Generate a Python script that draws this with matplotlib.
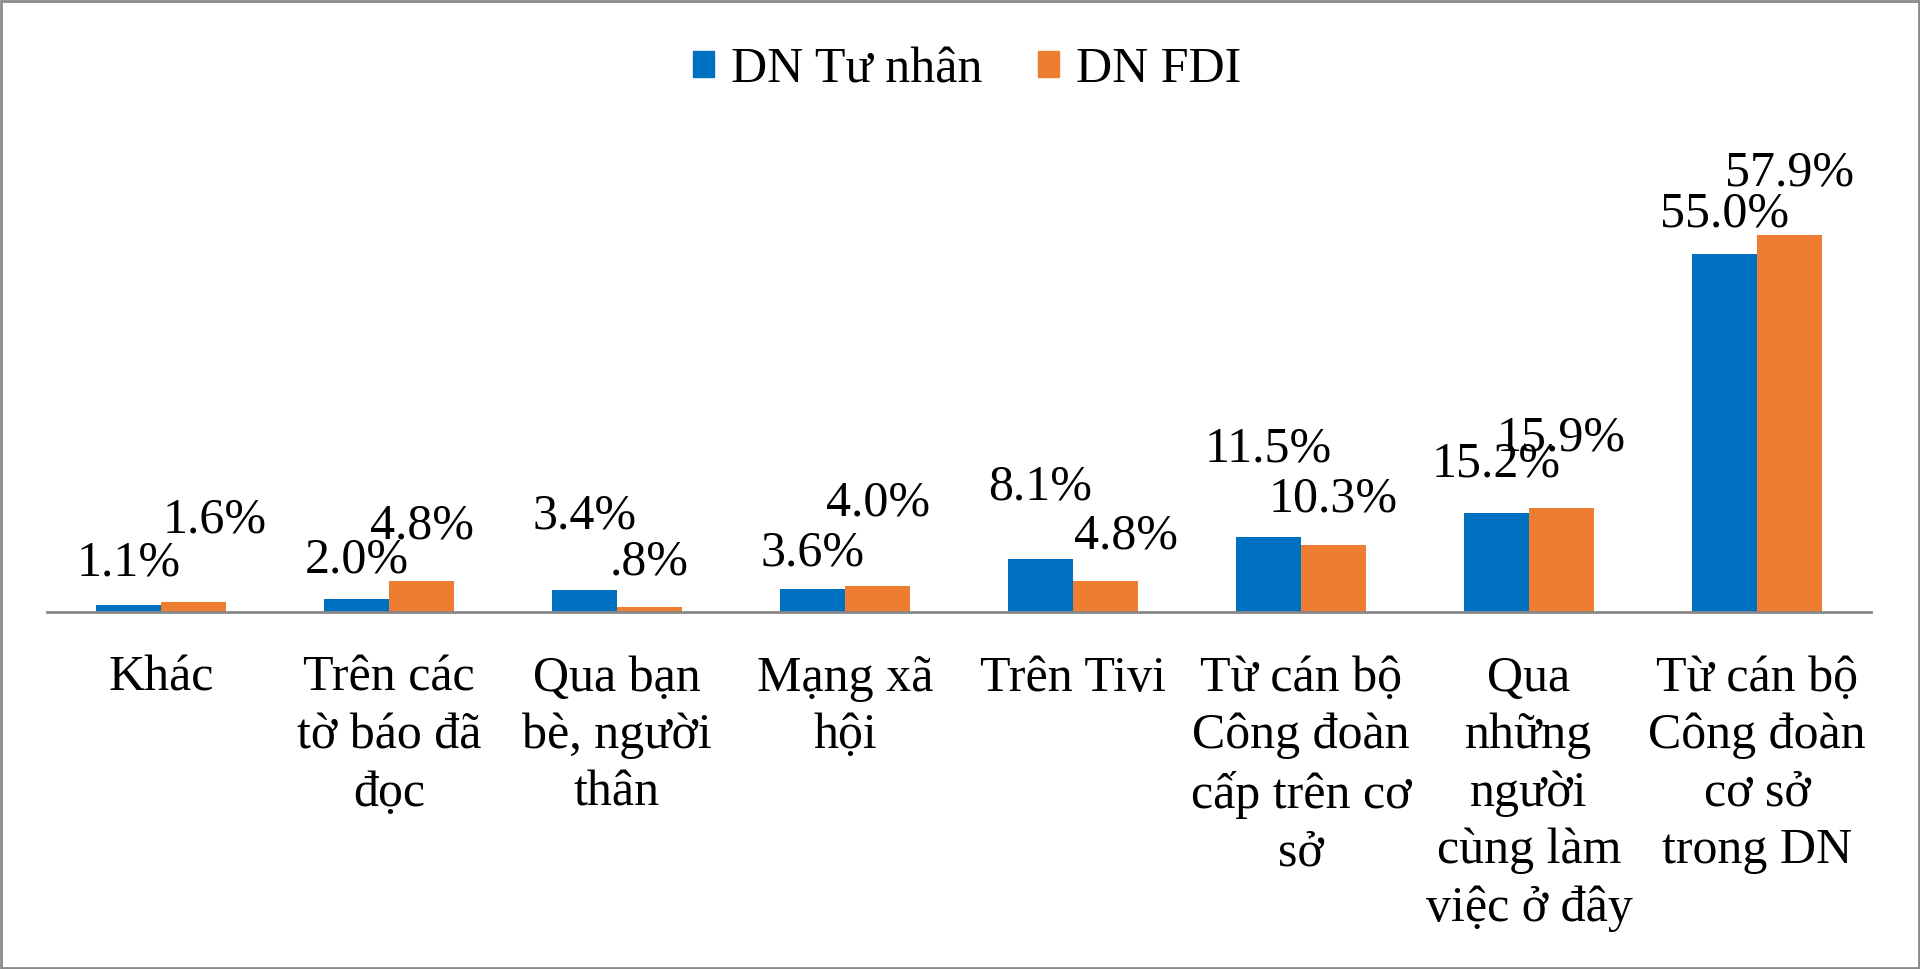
import matplotlib
matplotlib.use("Agg")
import matplotlib.pyplot as plt
from matplotlib.patches import Patch
import numpy as np

# Dữ liệu
categories = ["Khác", "Trên các\ntờ báo đã\nđọc", "Qua bạn\nbè, người\nthân",
              "Mạng xã\nhội", "Trên Tivi", "Từ cán bộ\nCông đoàn\ncấp trên cơ\nsở",
              "Qua\nnhững\nngười\ncùng làm\nviệc ở đây",
              "Từ cán bộ\nCông đoàn\ncơ sở\ntrong DN"]
tu_nhan = [1.1, 2.0, 3.4, 3.6, 8.1, 11.5, 15.2, 55.0]
fdi = [1.6, 4.8, 0.8, 4.0, 4.8, 10.3, 15.9, 57.9]
tu_nhan_labels = ["1.1%", "2.0%", "3.4%", "3.6%", "8.1%", "11.5%", "15.2%", "55.0%"]
fdi_labels = ["1.6%", "4.8%", ".8%", "4.0%", "4.8%", "10.3%", "15.9%", "57.9%"]
series_names = ["DN Tư nhân", "DN FDI"]

# vị trí nhãn (pixel) như trong bản gốc
dy_blue = [29, 26, 61, 23, 60, 76, 36, 27]
dy_orange = [69, 42, 32, 70, 32, 33, 58, 49]
dx_orange = [21, 0, 0, 0, 20, 0, 0, 0]

BLUE = "#0070C0"
ORANGE = "#ED7D31"
plt.rcParams['font.family'] = ['Liberation Serif', 'DejaVu Serif']
FS = 36

fig = plt.figure(figsize=(19.2, 9.69), dpi=100)
fig.patch.set_facecolor("white")
fig.patches.append(plt.Rectangle((0.0005, 0.001), 0.999, 0.998, transform=fig.transFigure,
                                 fill=False, edgecolor="#8a8a8a", linewidth=2))

ax = fig.add_axes([47/1920, 1 - 612/969, 1824/1920, 456/969])
x = np.arange(len(categories))
w = 0.2857
b1 = ax.bar(x - w/2, tu_nhan, w, color=BLUE, label=series_names[0])
b2 = ax.bar(x + w/2, fdi, w, color=ORANGE, label=series_names[1])

for i in range(len(x)):
    ax.annotate(tu_nhan_labels[i], (x[i] - w/2, tu_nhan[i]), xytext=(0, dy_blue[i]),
                textcoords="offset pixels", ha="center", va="baseline", fontsize=FS)
    ax.annotate(fdi_labels[i], (x[i] + w/2, fdi[i]), xytext=(dx_orange[i], dy_orange[i]),
                textcoords="offset pixels", ha="center", va="baseline", fontsize=FS)

ax.set_xlim(-0.5, len(categories) - 0.5)
ax.set_ylim(0, 70)
ax.set_xticks(x)
ax.set_xticklabels(categories, fontsize=FS, linespacing=1.31)
ax.tick_params(axis="x", length=0, pad=31)
ax.set_yticks([])
for s in ["top", "right", "left"]:
    ax.spines[s].set_visible(False)
ax.spines["bottom"].set_color("#888888")
ax.spines["bottom"].set_linewidth(2)

handles = [Patch(color=BLUE), Patch(color=ORANGE)]
fig.legend(handles, series_names, loc="center", bbox_to_anchor=(967/1920, 1 - 70/969),
           ncol=2, frameon=False, fontsize=FS, handlelength=0.42, handleheight=0.42,
           handletextpad=0.35, columnspacing=1.1)

fig.savefig("out.png", dpi=100)
